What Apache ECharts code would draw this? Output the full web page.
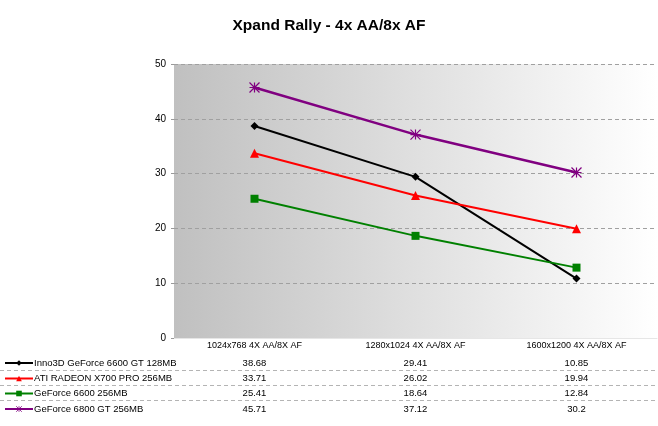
<!DOCTYPE html>
<html><head><meta charset="utf-8">
<script src="https://cdn.jsdelivr.net/npm/echarts@6/dist/echarts.min.js"></script>
<style>html,body{margin:0;padding:0;background:#fff}#c{width:658px;height:426px}</style>
</head><body><div id="c"></div>
<script>
var categories = ['1024x768 4X AA/8X AF', '1280x1024 4X AA/8X AF', '1600x1200 4X AA/8X AF'];
var seriesNames = ['Inno3D GeForce 6600 GT 128MB', 'ATI RADEON X700 PRO 256MB', 'GeForce 6600 256MB', 'GeForce 6800 GT 256MB'];
var inno6600gt = [38.68, 29.41, 10.85];
var atiX700pro = [33.71, 26.02, 19.94];
var gf6600 = [25.41, 18.64, 12.84];
var gf6800gt = [45.71, 37.12, 30.2];
var tableLabels = [['38.68', '29.41', '10.85'], ['33.71', '26.02', '19.94'], ['25.41', '18.64', '12.84'], ['45.71', '37.12', '30.2']];
var yTicks = [0, 10, 20, 30, 40, 50];

var values = [inno6600gt, atiX700pro, gf6600, gf6800gt];
var colors = ['#000000', '#ff0000', '#008000', '#800080'];
var symbols = ['diamond', 'triangle', 'rect', 'path://M0,0L10,10M10,0L0,10M5,0L5,10M0,5L10,5'];
var symSizes = [8, 9, 8, 10];
var font = 'Liberation Sans, Arial, sans-serif';
var rowY = [363, 378.5, 393.5, 409];

var chart = echarts.init(document.getElementById('c'));
var series = values.map(function (v, i) {
  return {
    name: seriesNames[i], type: 'line', data: v,
    symbol: symbols[i], symbolSize: symSizes[i],
    lineStyle: { color: colors[i], width: i === 3 ? 2.5 : 2 },
    itemStyle: { color: i === 3 ? 'rgba(0,0,0,0)' : colors[i], borderColor: colors[i], borderWidth: i === 3 ? 1.2 : 0 },
    animation: false, z: 3
  };
});
var legends = seriesNames.map(function (n, i) {
  return {
    data: [{ name: n, itemStyle: i === 3 ? { color: 'rgba(0,0,0,0)', borderColor: colors[i], borderWidth: 0.8 } : {} }],
    orient: 'vertical', left: 4, top: rowY[i] - 5,
    itemWidth: 28, itemHeight: 7, itemGap: 0, padding: 0,
    selectedMode: false,
    textStyle: { fontFamily: font, fontSize: 9.5, color: '#000', padding: [0, 0, 0, -4] }
  };
});
chart.setOption({
  backgroundColor: '#fff',
  animation: false,
  title: { text: 'Xpand Rally - 4x AA/8x AF', left: 'center', top: 13,
    textStyle: { fontFamily: font, fontSize: 15.5, fontWeight: 'bold', color: '#000' } },
  legend: legends,
  grid: { left: 174, right: 1, top: 64, bottom: 88, show: true, borderWidth: 0,
    backgroundColor: new echarts.graphic.LinearGradient(0, 0, 1, 0, [
      { offset: 0, color: '#c0c0c0' }, { offset: 1, color: '#ffffff' }]) },
  xAxis: { type: 'category', data: categories, boundaryGap: true,
    axisLine: { show: true, lineStyle: { color: '#e6e6e6', width: 1 } },
    axisTick: { show: false },
    axisLabel: { fontFamily: font, fontSize: 9, color: '#000', margin: 3 } },
  yAxis: { type: 'value', min: yTicks[0], max: yTicks[yTicks.length - 1], interval: 10,
    axisLine: { show: false },
    axisTick: { show: true, length: 3, lineStyle: { color: '#999' } },
    axisLabel: { fontFamily: font, fontSize: 10, color: '#000', margin: 8 },
    splitLine: { show: true, lineStyle: { color: '#a0a0a0', type: [4, 3], width: 1 } } },
  series: series
});

var g = [];
[370.5, 385.5, 400.5].forEach(function (y) {
  g.push({ type: 'line', shape: { x1: 0, y1: y, x2: 658, y2: y },
    style: { stroke: '#b4b4b4', lineWidth: 1, lineDash: [4, 3] } });
});
tableLabels.forEach(function (row, r) {
  row.forEach(function (t, c) {
    var x = chart.convertToPixel({ xAxisIndex: 0 }, categories[c]);
    g.push({ type: 'text', x: x, y: rowY[r],
      style: { text: t, fontFamily: font, fontSize: 9.5, fill: '#000', textAlign: 'center', textVerticalAlign: 'middle' } });
  });
});
chart.setOption({ graphic: g });
</script></body></html>
